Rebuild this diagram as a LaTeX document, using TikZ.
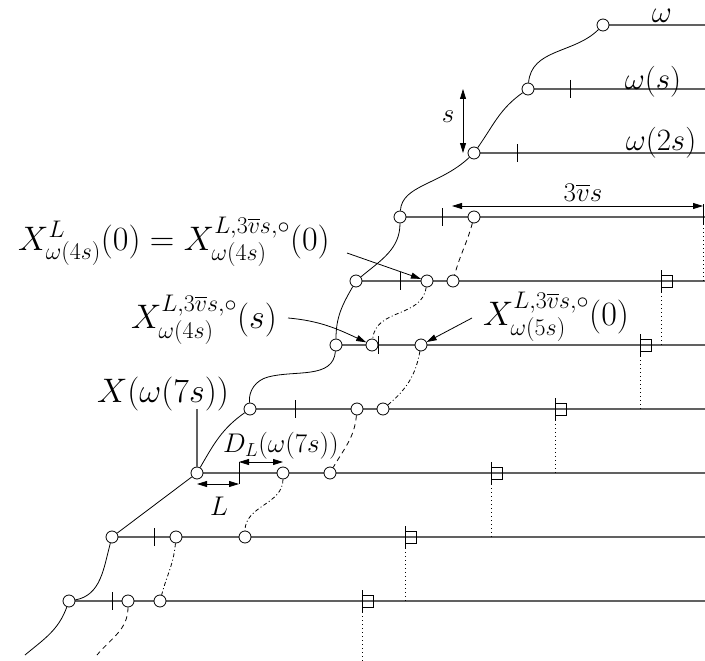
\RequirePackage{fix-cm}
\documentclass[tikz,border=0pt]{standalone}
\usepackage{amsmath}
\usetikzlibrary{arrows.meta}
\DeclareMathSizes{34}{34}{24}{17}
\pgfdeclarelayer{bg}
\pgfsetlayers{bg,main}
\tikzset{
 pt/.style={circle,draw,fill=white,inner sep=0pt,minimum size=12pt,line width=0.8pt},
 hline/.style={draw=black!62,line width=1.1pt},
 curve/.style={line width=0.8pt},
 trajdash/.style={line width=0.8pt,dash pattern=on 5pt off 4pt},
 trajdd/.style={line width=0.8pt,dash pattern=on 4pt off 2.5pt on 1pt off 2.5pt},
 drop/.style={line width=0.8pt,dash pattern=on 1pt off 3pt},
 tk/.style={line width=0.8pt},
 arr/.style={line width=0.8pt,-{Triangle[length=10pt,width=6pt]}},
 darr/.style={line width=0.8pt,{Triangle[length=10pt,width=6pt]}-{Triangle[length=10pt,width=6pt]}},
 lab/.style={inner sep=0pt,anchor=base,font=\fontsize{34}{40}\selectfont},
 labw/.style={inner sep=0pt,anchor=base,font=\fontsize{31}{37}\selectfont},
 labs/.style={inner sep=0pt,anchor=base,font=\fontsize{27}{32}\selectfont},
}
\begin{document}
\begin{tikzpicture}[x=1pt,y=1pt]
\useasboundingbox (0,0) rectangle (705,-661);
% row end coordinates
\foreach \r/\y in {0/25,1/89,2/153,3/217,4/281,5/345,6/409,7/473,8/537,9/601}
  \coordinate (re\r) at (705,-\y);
% main circles
\node[pt] (w0) at (603,-25) {};
\node[pt] (w1) at (528,-89) {};
\node[pt] (w2) at (474,-153) {};
\node[pt] (w3) at (400,-217) {};
\node[pt] (w4) at (356,-281) {};
\node[pt] (w5) at (336,-345) {};
\node[pt] (w6) at (250,-409) {};
\node[pt] (w7) at (197,-473) {};
\node[pt] (w8) at (112,-537) {};
\node[pt] (w9) at (69,-601) {};
% trajectory circles
\node[pt] (a3) at (474,-217) {};
\node[pt] (b4) at (427,-281) {};
\node[pt] (a4) at (453,-281) {};
\node[pt] (b5) at (372,-345) {};
\node[pt] (c5) at (421,-345) {};
\node[pt] (a6) at (357,-409) {};
\node[pt] (c6) at (383,-409) {};
\node[pt] (d7) at (283,-473) {};
\node[pt] (a7) at (330,-473) {};
\node[pt] (g8) at (176,-537) {};
\node[pt] (d8) at (245,-537) {};
\node[pt] (g9) at (128,-601) {};
\node[pt] (f9) at (160,-601) {};
% horizontal lines
\begin{pgfonlayer}{bg}
\foreach \r in {0,...,9} \draw[hline] (w\r) -- (re\r);
\end{pgfonlayer}
% ticks
\foreach \x/\y in {570/89,517/153,442/217,400/281,378/345,295/409,154/537,112/601}
  \draw[tk] (\x,-\y+9) -- (\x,-\y-9);
% squares and drops
\foreach \n/\x/\y/\yy in {4/661/281/345,5/640/345/409,6/555/409/473,7/491/473/537,8/405/537/601,9/362/601/661}{
  \coordinate (q\n) at (\x,-\y);
  \coordinate (r\n) at (\x,-\yy);
  \draw[tk] ([yshift=11pt]q\n) -- ([yshift=-11pt]q\n);
  \draw[tk] ([yshift=-6pt]q\n) rectangle ([xshift=11pt,yshift=6pt]q\n);
  \draw[drop] ([yshift=-11pt]q\n) -- (r\n);
}
\coordinate (q3) at (703,-217);
\coordinate (r3) at (703,-281);
\draw[tk] (703,-204) -- ([yshift=-7pt]q3);
\draw[drop] ([yshift=-7pt]q3) -- (r3);
% main curve omega
\coordinate (ws) at (25,-655);
\coordinate (k1) at (268,-377);
\draw[curve] (ws) to[out=40,in=-110] (w9);
\draw[curve] (w9) to[out=10,in=-105] (w8);
\draw[curve] (w8) -- (w7);
\draw[curve] (w7) to[out=60,in=-145] (w6);
\draw[curve] (w6) to[out=95,in=-165] (k1) to[out=15,in=-95] (w5);
\draw[curve] (w5) to[out=90,in=-120] (w4);
\draw[curve] (w4) to[out=40,in=-90] (w3);
\draw[curve] (w3) .. controls (402,-185) and (440,-185) .. (w2);
\draw[curve] (w2) to[out=55,in=-145] (w1);
\draw[curve] (w1) to[out=85,in=-135] (w0);
% trajectories
\coordinate (te) at (97,-655);
\draw[trajdash] (a3) to[out=-105,in=75] (a4);
\draw[trajdd] (b4) .. controls (422,-318) and (376,-308) .. (b5);
\draw[trajdd] (c5) to[out=-100,in=40] (c6);
\draw[trajdash] (a6) to[out=-95,in=60] (a7);
\draw[trajdd] (d7) to[out=-90,in=90] (d8);
\draw[trajdd] (g8) to[out=-95,in=75] (f9);
\draw[trajdash] (g9) to[out=-90,in=50] (te);
% labels
\node[labw] (lw0) at (662,-23) {$\omega$};
\node[labw] (lw1) at (653,-90) {$\omega(s)$};
\node[labw] (lw2) at (661,-150) {$\omega(2s)$};
\node[lab] (lbig) at (174,-250) {$X^L_{\omega(4s)}(0)=X^{L,3\overline{v}s,\circ}_{\omega(4s)}(0)$};
\node[lab] (ls) at (204,-328) {$X^{L,3\overline{v}s,\circ}_{\omega(4s)}(s)$};
\node[lab] (l5) at (556,-325) {$X^{L,3\overline{v}s,\circ}_{\omega(5s)}(0)$};
\node[lab] (lx7) at (163,-402) {$X(\omega(7s))$};
\node[labs] (ld) at (281,-452) {$D_L(\omega(7s))$};
\node[labs] (lL) at (219,-515) {$L$};
\node[labs] (lsg) at (448,-123) {$s$};
\node[labs] (l3v) at (583,-201) {$3\overline{v}s$};
% arrows
\coordinate (sA) at (463,-89);
\coordinate (sB) at (463,-153);
\draw[darr] (sA) -- (sB);
\coordinate (tA) at (452,-206);
\coordinate (tB) at (703,-206);
\draw[darr] (tA) -- (tB);
\coordinate (pa) at (347,-253);
\draw[arr] (pa) -- (b4);
\coordinate (pb) at (288,-318);
\draw[arr] (pb) to[out=-5,in=155] (b5);
\coordinate (pc) at (472,-318);
\draw[arr] (pc) -- (c5);
% X(omega(7s)) pointer
\coordinate (px) at (197,-409);
\draw[hline] (px) -- (w7);
% L and D_L
\coordinate (l1) at (239,-462);
\coordinate (l2) at (239,-484);
\coordinate (l0) at (197,-484);
\draw[tk] (l1) -- (l2);
\draw[darr] (l0) -- (l2);
\draw[darr] (l1) -- (d7 |- l1);
\end{tikzpicture}
\end{document}
